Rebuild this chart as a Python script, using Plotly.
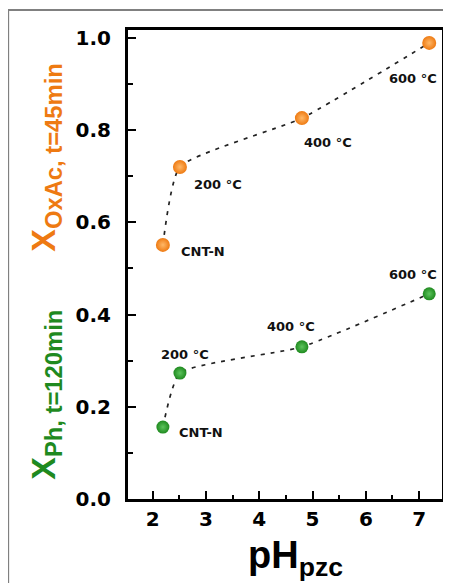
import plotly.graph_objects as go

# data
ph_pzc = [2.19, 2.51, 4.80, 7.19]
x_oxac = [0.551, 0.720, 0.826, 0.989]
x_ph = [0.156, 0.273, 0.330, 0.445]
labels = ["CNT-N", "200 °C", "400 °C", "600 °C"]
x_ticks = [2, 3, 4, 5, 6, 7]
y_ticks = [0.0, 0.2, 0.4, 0.6, 0.8, 1.0]
y_ticktext = ["0.0", "0.2", "0.4", "0.6", "0.8", "1.0"]

ORANGE = "#EE7A12"
ORANGE_C = "#FFB868"
GREEN = "#1F8A1F"
GREEN_C = "#5CC45C"
FONT = "Liberation Sans"
HEAVY = "DejaVu Sans"

OFF = 8  # page body margin
W, H = 451 - OFF, 583 - OFF
ml, mr, mt, mb = 128 - OFF, 6, 30 - OFF, 84
PW = W - ml - mr
PH = H - mt - mb

fig = go.Figure()
for ys, col, cc, sz in [(x_oxac, ORANGE, ORANGE_C, 14), (x_ph, GREEN, GREEN_C, 13)]:
    fig.add_trace(go.Scatter(
        x=ph_pzc, y=ys, mode="lines",
        line=dict(color="#222222", width=1.7, dash="4px,6px", shape="spline", smoothing=0.5),
        showlegend=False, hoverinfo="skip"))
    fig.add_trace(go.Scatter(
        x=ph_pzc, y=ys, mode="markers",
        marker=dict(size=sz, color=col, line=dict(width=0),
                    gradient=dict(type="radial", color=cc)),
        showlegend=False))

annots = []
orange_off = [(16, -7), (12, -18), (0, -24), (-42, -36)]
green_off = [(14, -5), (-21, 19), (-37, 20), (-42, 19)]
lab_font = dict(family=HEAVY, size=13, color="#111111", weight="bold")
for i, lab in enumerate(labels):
    dx, dy = orange_off[i]
    annots.append(dict(x=ph_pzc[i], y=x_oxac[i], xref="x", yref="y", text=lab,
                       showarrow=False, xanchor="left", yanchor="middle",
                       xshift=dx, yshift=dy, font=lab_font))
    dx, dy = green_off[i]
    annots.append(dict(x=ph_pzc[i], y=x_ph[i], xref="x", yref="y", text=lab,
                       showarrow=False, xanchor="left", yanchor="middle",
                       xshift=dx, yshift=dy, font=lab_font))


def px_x(px):
    return (px - 128) / PW


def px_y(py):
    return (499 - py) / PH


# y-axis titles (two coloured parts)
annots.append(dict(xref="paper", yref="paper", x=px_x(44), y=px_y(157), textangle=-90,
                   text="X<sub>OxAc, t=45min</sub>", showarrow=False,
                   xanchor="center", yanchor="middle",
                   font=dict(family=FONT, size=34, color=ORANGE, weight="bold")))
annots.append(dict(xref="paper", yref="paper", x=px_x(44), y=px_y(395), textangle=-90,
                   text="X<sub>Ph, t=120min</sub>", showarrow=False,
                   xanchor="center", yanchor="middle",
                   font=dict(family=FONT, size=34, color=GREEN, weight="bold")))
# x-axis title
annots.append(dict(xref="paper", yref="paper", x=px_x(297), y=px_y(558),
                   text="pH<sub>pzc</sub>", showarrow=False,
                   xanchor="center", yanchor="middle",
                   font=dict(family=FONT, size=38, color="#000000", weight="bold")))

fig.update_layout(
    width=W, height=H,
    margin=dict(l=ml, r=mr, t=mt, b=mb),
    paper_bgcolor="white", plot_bgcolor="white",
    annotations=annots,
    shapes=[dict(type="rect", xref="paper", yref="paper",
                 x0=px_x(7), x1=px_x(460),
                 y0=px_y(600), y1=px_y(10),
                 line=dict(color="#808080", width=2), layer="below")],
)
fig.update_xaxes(
    range=[1.535, 7.43], tickvals=x_ticks, ticks="inside", ticklen=8, tickwidth=2,
    tickcolor="black", showline=True, linecolor="black", linewidth=3, mirror=True,
    showgrid=False, zeroline=False,
    minor=dict(ticks="inside", ticklen=4, tickwidth=2, tickcolor="black", dtick=0.5, tick0=1.5),
    tickfont=dict(family=HEAVY, size=20, color="black", weight="bold"),
)
fig.update_yaxes(
    range=[0, 1.017], tickvals=y_ticks, ticktext=y_ticktext, ticks="inside", ticklen=8,
    tickwidth=2, tickcolor="black", showline=True, linecolor="black", linewidth=3,
    mirror=True, showgrid=False, zeroline=False,
    minor=dict(ticks="inside", ticklen=5, tickwidth=2, tickcolor="black", dtick=0.1, tick0=0.1),
    tickfont=dict(family=HEAVY, size=20, color="black", weight="bold"),
    ticklabelstandoff=10,
)

fig.write_html("out.html")
